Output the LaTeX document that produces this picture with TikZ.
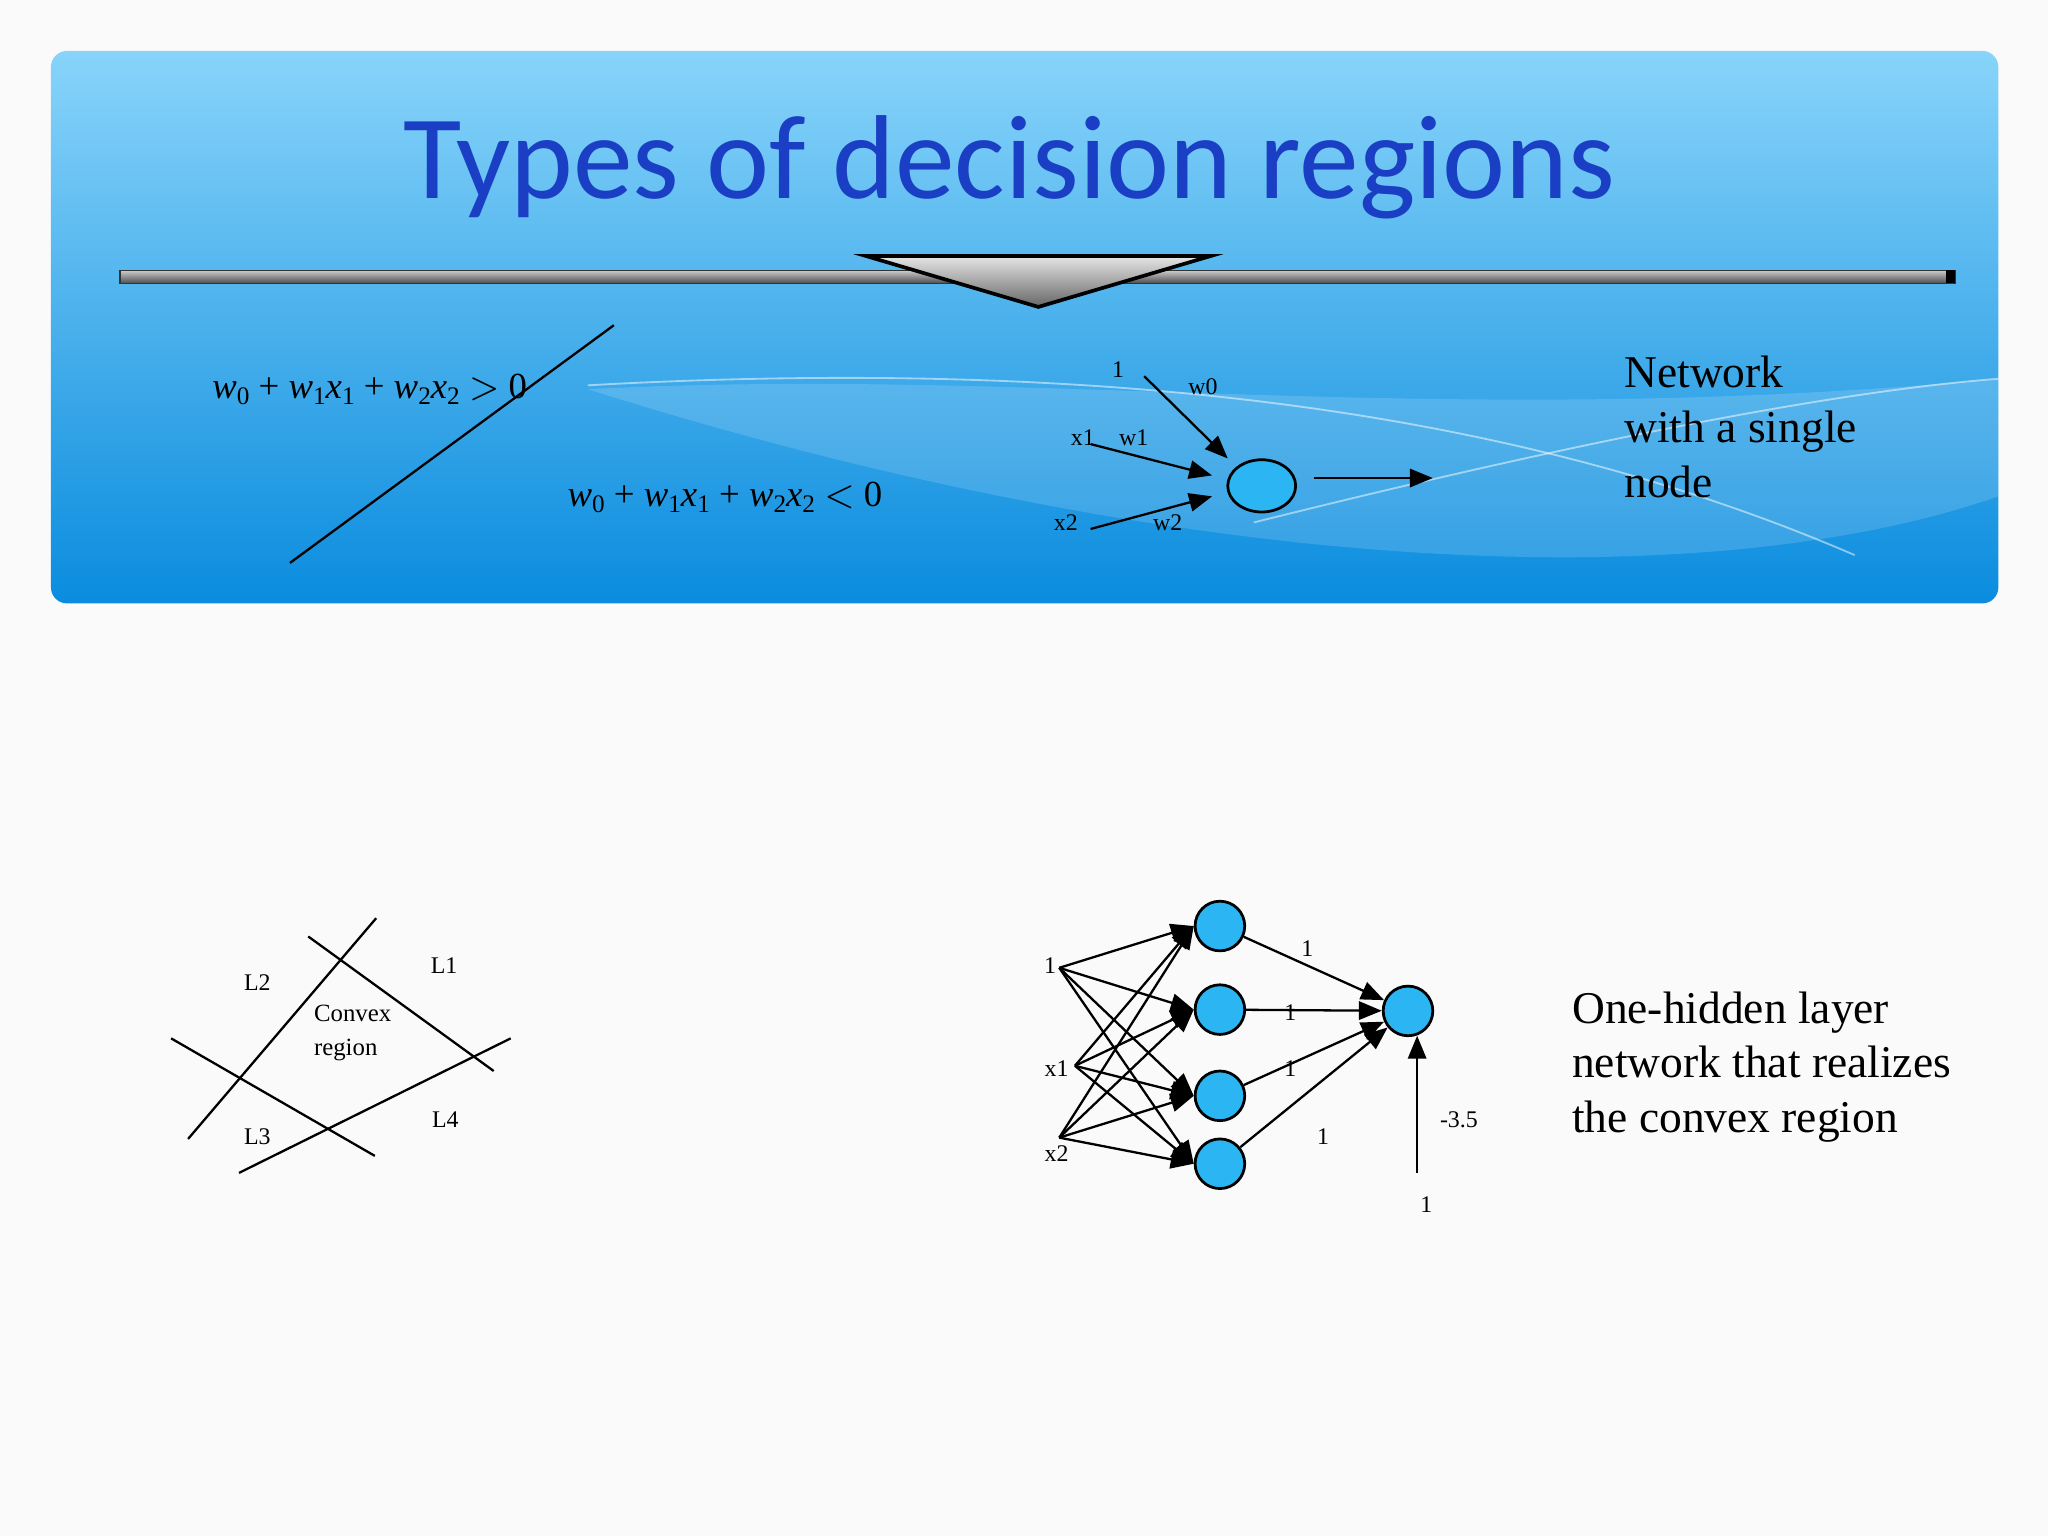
\documentclass[tikz,border=0pt]{standalone}
\usepackage{fontspec}
\setmainfont{Liberation Serif}
\newfontfamily\titlefont{Carlito}
\usetikzlibrary{arrows.meta,shapes.geometric}
\definecolor{ttl}{HTML}{1B3FC4}
\definecolor{nodeb}{HTML}{2BB5F3}
\newcommand{\sbs}[1]{\raisebox{-0.35ex}{\fontsize{5.5}{6}\selectfont\upshape #1}}
\begin{document}
\begin{tikzpicture}[x=0.01cm,y=-0.01cm,
  lbl/.style={inner sep=0pt,font=\fontsize{5.2}{6}\selectfont},
  big/.style={inner sep=0pt,align=left,anchor=west,font=\fontsize{9.9}{11.9}\selectfont},
  eqn/.style={inner sep=0pt,font=\fontsize{8}{9}\selectfont\itshape},
  arr/.style={-{Triangle[length=5pt,width=4pt]},line width=0.5pt},
  neu/.style={circle,draw,fill=nodeb,minimum size=38*0.01cm,inner sep=0pt,line width=0.6pt}]
\useasboundingbox (0,0) rectangle (1568,1176);
\fill[black!2] (0,0) rectangle (1568,1176);
\shade[top color={rgb,255:red,136;green,212;blue,250},bottom color={rgb,255:red,10;green,140;blue,222},rounded corners=3.5pt] (39,39) rectangle (1530,462);
% swooshes
\fill[white,opacity=0.15] (450,298) .. controls (800,280) and (1100,330) .. (1530,290) -- (1530,380) .. controls (1300,460) and (900,440) .. (450,298);
\draw[white,opacity=0.5,line width=0.4pt] (450,295) .. controls (900,270) and (1200,330) .. (1420,425);
\draw[white,opacity=0.5,line width=0.4pt] (960,400) .. controls (1200,340) and (1400,300) .. (1530,290);
\node[font=\titlefont\fontsize{26}{30}\selectfont,text=ttl] (title) at (773,128) {Types of decision regions};
% bar
\shade[top color=black!20,bottom color=black!70,draw=black!80,line width=0.3pt] (92,207) rectangle (1497,217);
\fill[black] (1490,207) rectangle (1497,217);
\shade[top color=black!10,bottom color=black!60,draw=black,line width=0.8pt] (663,196) -- (927,196) -- (795,235) -- cycle;
% decision line
\draw[line width=0.5pt] (222,431) -- (470,249);
\node[eqn] (eq1) at (283,298) {w\sbs{0} \upshape+ \itshape w\sbs{1}x\sbs{1} \upshape+ \itshape w\sbs{2}x\sbs{2} \upshape$>$ 0};
\node[eqn] (eq2) at (555,381) {w\sbs{0} \upshape+ \itshape w\sbs{1}x\sbs{1} \upshape+ \itshape w\sbs{2}x\sbs{2} \upshape$<$ 0};
% single node
\node[ellipse,draw,fill=nodeb,minimum width=52*0.01cm,minimum height=40*0.01cm,inner sep=0pt,line width=0.6pt] (sn) at (966,372) {};
\coordinate (s1) at (876,288); \coordinate (s2) at (835,340); \coordinate (s3) at (835,405);
\coordinate (so) at (1006,366); \coordinate (se) at (1097,366);
\draw[arr] (s1) -- (940,351);
\draw[arr] (s2) -- (928,364);
\draw[arr] (s3) -- (928,380);
\draw[arr] (so) -- (se);
\node[lbl] (l1) at (856,283) {1};
\node[lbl] (lw0) at (921,296) {w0};
\node[lbl] (lx1) at (829,335) {x1};
\node[lbl] (lw1) at (868,335) {w1};
\node[lbl] (lx2) at (816,400) {x2};
\node[lbl] (lw2) at (894,400) {w2};
\node[big] (net) at (1243,327) {Network\\with a single\\node};
% convex region lines
\draw[line width=0.5pt] (236,717) -- (378,820);
\draw[line width=0.5pt] (288,703) -- (144,872);
\draw[line width=0.5pt] (131,795) -- (287,885);
\draw[line width=0.5pt] (183,898) -- (391,795);
\node[lbl] (L2) at (197,752) {L2};
\node[lbl] (L1) at (340,739) {L1};
\node[lbl,align=left,font=\fontsize{5.4}{7.4}\selectfont] (cr) at (270,791) {Convex\\region};
\node[lbl] (L3) at (197,870) {L3};
\node[lbl] (L4) at (341,857) {L4};
% hidden layer network
\node[lbl] (i1) at (804,739) {1};
\node[lbl] (i2) at (809,818) {x1};
\node[lbl] (i3) at (809,883) {x2};
\coordinate (p1) at (811,741); \coordinate (p2) at (823,816); \coordinate (p3) at (811,871);
\node[neu] (h1) at (934,709) {};
\node[neu] (h2) at (934,773) {};
\node[neu] (h3) at (934,839) {};
\node[neu] (h4) at (934,891) {};
\node[neu] (o) at (1078,774) {};
\foreach \p in {p1,p2,p3}{
  \draw[arr] (\p) -- (h1.west);
  \draw[arr] (\p) -- (h2.west);
  \draw[arr] (\p) -- (h3.west);
  \draw[arr] (\p) -- (h4.west);
}
\draw[arr] (h1) -- (o);
\draw[arr] (h2) -- (o);
\draw[arr] (h3) -- (o);
\draw[arr] (h4) -- (o);
\coordinate (b) at (1085,898);
\coordinate (bt) at (1085,793);
\draw[arr] (b) -- (bt);
\node[lbl] (w1) at (1001,726) {1};
\node[lbl] (w2) at (988,775) {1};
\node[lbl] (w3) at (988,818) {1};
\node[lbl] (w4) at (1013,870) {1};
\node[lbl] (bw) at (1117,857) {-3.5};
\node[lbl] (bi) at (1092,922) {1};
\node[big] (desc) at (1203,817) {One-hidden layer\\network that realizes\\the convex region};
\end{tikzpicture}
\end{document}
